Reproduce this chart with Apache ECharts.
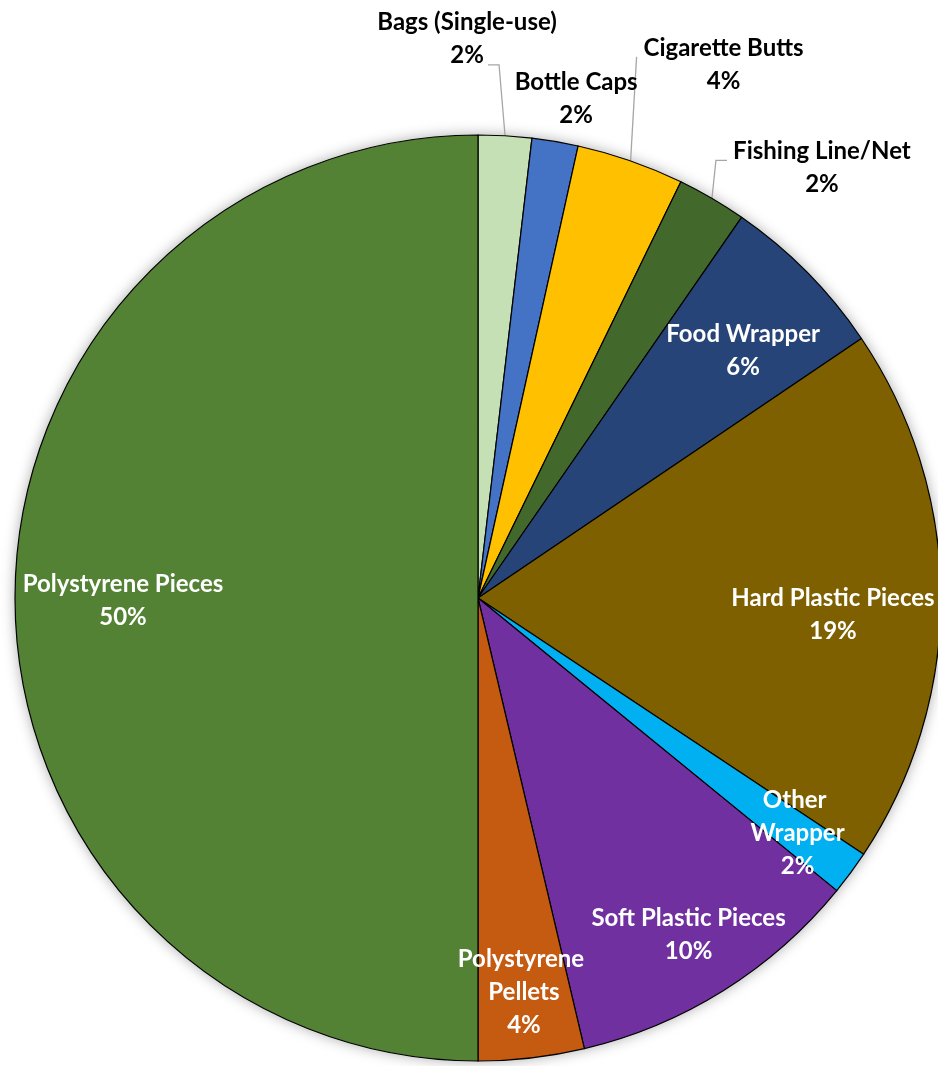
<!DOCTYPE html>
<html><head><meta charset="utf-8">
<script src="https://cdn.jsdelivr.net/npm/echarts@6/dist/echarts.min.js"></script>
<style>html,body{margin:0;padding:0;background:#fff}#c{width:938px;height:1066px}</style>
</head><body><div id="c"></div>
<script>
// ---- data ----
const categories = ['Bags (Single-use)','Bottle Caps','Cigarette Butts','Fishing Line/Net','Food Wrapper','Hard Plastic Pieces','Other Wrapper','Soft Plastic Pieces','Polystyrene Pellets','Polystyrene Pieces'];
const shares = [1.86, 1.61, 3.75, 2.42, 5.89, 18.8, 1.56, 10.42, 3.69, 50];
const colors = ['#C5E0B4','#4472C4','#FFC000','#43682B','#264478','#7F6000','#00B0F0','#7030A0','#C55A11','#548235'];
const outsideLabels = ['Bags (Single-use)','Bottle Caps','Cigarette Butts','Fishing Line/Net'];
const noLeader = ['Bottle Caps'];
const ringA = ['Polystyrene Pieces','Hard Plastic Pieces'];
const ringB = ['Other Wrapper','Soft Plastic Pieces','Polystyrene Pellets'];
const ringC = ['Food Wrapper'];

// ---- layout / style ----
const CX = 478, CY = 598, R = 463;
const FONT = 'Lato';
const FS = 24, LH = 33;
const wrap = {'Other Wrapper': {width: 100, overflow: 'break'}, 'Polystyrene Pellets': {width: 150, overflow: 'break'}};
// small vertical nudges of inside labels
const innerShift = {'Hard Plastic Pieces': 18, 'Food Wrapper': 15, 'Polystyrene Pieces': 3};
// outside label placement relative to leader start on the rim
const outLayout = {
  'Bags (Single-use)': {label: [-38, -97], line: [[-6, -71], [-17, -71]]},
  'Bottle Caps': {label: [21, -43], line: null},
  'Cigarette Butts': {label: [93, -96], line: [[6, -104]]},
  'Fishing Line/Net': {label: [110, -31], line: [[4, -38], [15, -38]]}
};

const fmt = p => p.name + '\n' + Math.round(p.value) + '%';
const total = shares.reduce((a, b) => a + b, 0);
function rimPoint(idx) {
  let before = 0; for (let i = 0; i < idx; i++) before += shares[i];
  const a = (before + shares[idx] / 2) / total * 2 * Math.PI;
  return [CX + R * Math.sin(a), CY - R * Math.cos(a)];
}

const chart = echarts.init(document.getElementById('c'), null, {renderer: 'canvas'});

function ring(r0, names) {
  return {
    type: 'pie', radius: [r0, R], center: [CX, CY], startAngle: 90, silent: true,
    avoidLabelOverlap: false, z: 5,
    itemStyle: {color: 'rgba(0,0,0,0)', borderWidth: 0},
    labelLine: {show: false},
    label: {position: 'inside', rotate: 0, color: '#fff', fontFamily: FONT, fontWeight: 'bold', fontSize: FS, lineHeight: LH, formatter: fmt, align: 'center'},
    labelLayout: function (params) {
      const s = innerShift[categories[params.dataIndex]];
      return s ? {dy: s} : {};
    },
    emphasis: {disabled: true},
    data: categories.map((n, i) => ({name: n, value: shares[i], label: Object.assign({show: names.includes(n)}, wrap[n] || {})}))
  };
}

const option = {
  animation: false,
  backgroundColor: '#fff',
  series: [
    {
      type: 'pie', radius: [0, R], center: [CX, CY], silent: true, z: 1,
      itemStyle: {color: '#fff', shadowBlur: 14, shadowColor: 'rgba(0,0,0,0.35)'},
      label: {show: false}, labelLine: {show: false}, emphasis: {disabled: true},
      data: [{value: 1, name: ''}]
    },
    {
      type: 'pie', radius: [0, R], center: [CX, CY], startAngle: 90, clockwise: true,
      avoidLabelOverlap: false, silent: true, z: 2,
      itemStyle: {borderColor: '#000', borderWidth: 1.2},
      emphasis: {disabled: true},
      label: {position: 'outside', color: '#000', fontFamily: FONT, fontWeight: 'bold', fontSize: FS, lineHeight: LH, formatter: fmt, align: 'center'},
      labelLine: {show: true, length: 40, length2: 10, lineStyle: {color: '#A6A6A6', width: 1.3}},
      labelLayout: function (params) {
        const name = categories[params.dataIndex];
        const cfg = outLayout[name];
        if (!cfg) return {};
        const p0 = (params.labelLinePoints && params.labelLinePoints[0]) || rimPoint(params.dataIndex);
        const res = {x: p0[0] + cfg.label[0], y: p0[1] + cfg.label[1], align: 'center', verticalAlign: 'middle'};
        if (cfg.line) res.labelLinePoints = [p0].concat(cfg.line.map(d => [p0[0] + d[0], p0[1] + d[1]]));
        return res;
      },
      data: categories.map((n, i) => ({
        name: n, value: shares[i], itemStyle: {color: colors[i]},
        label: {show: outsideLabels.includes(n)},
        labelLine: {show: outsideLabels.includes(n) && !noLeader.includes(n)}
      }))
    },
    ring(241, ringA),
    ring(325, ringB),
    ring(277, ringC)
  ]
};
chart.setOption(option);
</script>
</body></html>
